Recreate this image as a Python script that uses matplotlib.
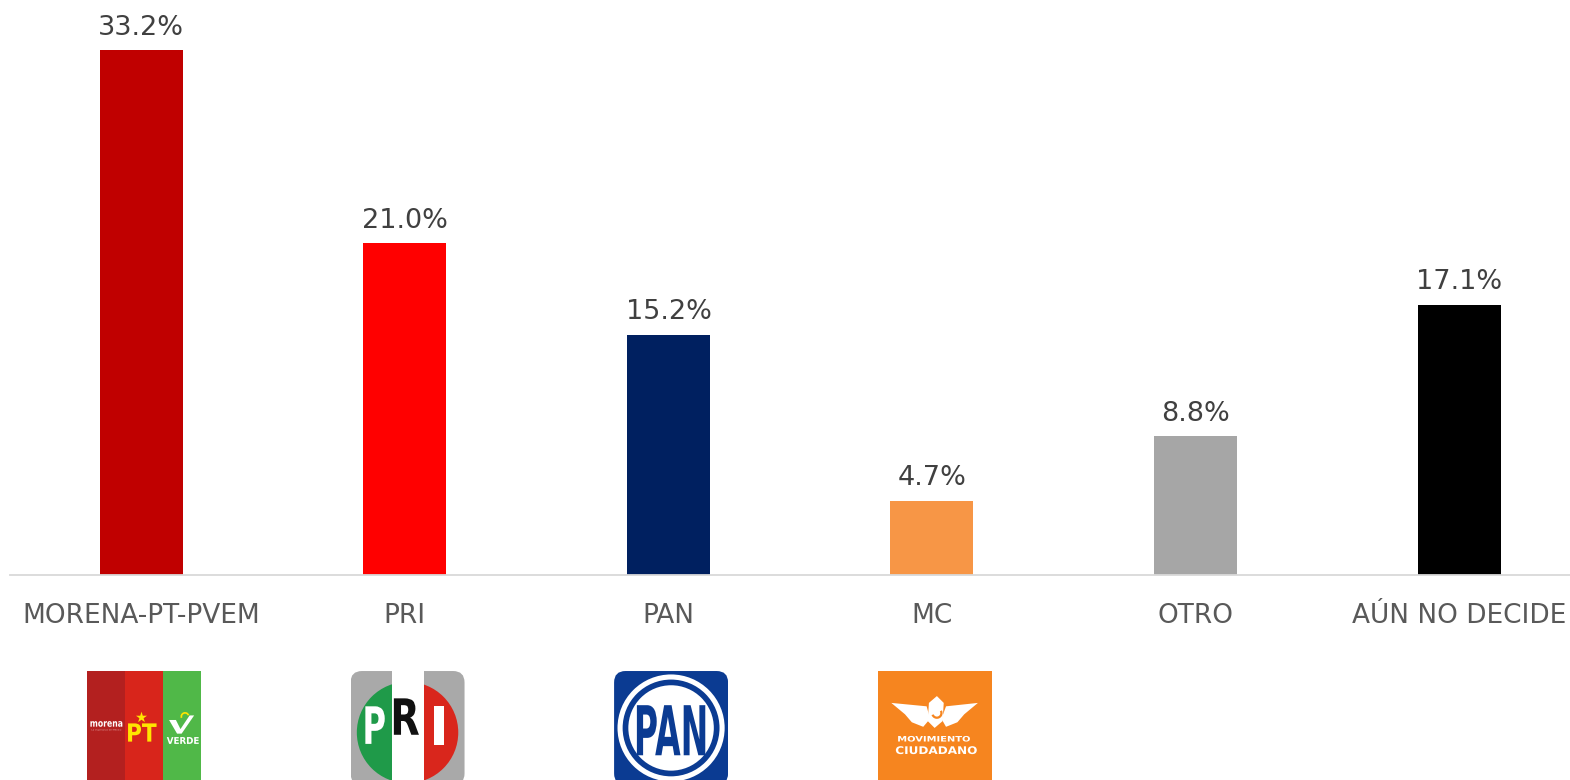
import matplotlib
matplotlib.use("Agg")
import matplotlib.pyplot as plt
from matplotlib.patches import Rectangle, Circle, Wedge, Polygon, FancyBboxPatch, PathPatch
from matplotlib.textpath import TextPath
from matplotlib.font_manager import FontProperties
from matplotlib.transforms import Affine2D

# Data
categories = ["MORENA-PT-PVEM", "PRI", "PAN", "MC", "OTRO", "AÚN NO DECIDE"]
values = [33.2, 21.0, 15.2, 4.7, 8.8, 17.1]
bar_colors = ["#c00000", "#ff0000", "#002060", "#f79646", "#a6a6a6", "#000000"]
logos = ["morena", "pri", "pan", "mc", None, None]


def fit_text(a, s, x0, y0, x1, y1, color, weight="bold"):
    # draw text stretched into a box (logo units, y up)
    tp = TextPath((0, 0), s, size=1, prop=FontProperties(family="DejaVu Sans", weight=weight))
    bb = tp.get_extents()
    tr = (Affine2D().translate(-bb.x0, -bb.y0)
          .scale((x1 - x0) / bb.width, (y1 - y0) / bb.height).translate(x0, y0))
    a.add_patch(PathPatch(tr.transform_path(tp), fc=color, ec="none", lw=0))


def logo_morena(a):
    for k, c in enumerate(["#b3201f", "#d8251b", "#50b848"]):
        a.add_patch(Rectangle((k / 3, 0), 1 / 3 + 0.002, 1, fc=c, ec="none"))
    fit_text(a, "morena", 0.03, 0.51, 0.31, 0.56, "white")
    fit_text(a, "La esperanza de México", 0.04, 0.475, 0.30, 0.49, "#f2c9c9", weight="normal")
    fit_text(a, "PT", 0.36, 0.38, 0.61, 0.54, "#ffe500")
    a.scatter([0.475], [0.60], marker="*", s=70, color="#ffe500", lw=0)
    fit_text(a, "VERDE", 0.70, 0.36, 0.98, 0.42, "white")
    a.add_patch(Polygon([(0.72, 0.57), (0.78, 0.57), (0.82, 0.49), (0.90, 0.61),
                         (0.94, 0.61), (0.83, 0.45), (0.79, 0.45)], fc="white", ec="none"))
    a.add_patch(Wedge((0.86, 0.60), 0.04, 20, 200, width=0.015, fc="#ffe500", ec="none"))


def logo_pri(a):
    a.add_patch(FancyBboxPatch((0, 0), 1, 1, boxstyle="round,pad=0,rounding_size=0.1",
                               fc="#a9a9a9", ec="none"))
    a.add_patch(Wedge((0.5, 0.46), 0.445, 90, 270, fc="#1f9a49", ec="none"))
    a.add_patch(Wedge((0.5, 0.46), 0.445, -90, 90, fc="#d9261c", ec="none"))
    a.add_patch(Rectangle((0.36, 0), 0.28, 1, fc="white", ec="none"))
    fit_text(a, "P", 0.13, 0.36, 0.30, 0.69, "white")
    fit_text(a, "R", 0.38, 0.44, 0.60, 0.76, "#111111")
    fit_text(a, "I", 0.73, 0.35, 0.82, 0.69, "white")


def logo_pan(a):
    blue = "#0b3b92"
    a.add_patch(FancyBboxPatch((0, 0), 1, 1, boxstyle="round,pad=0,rounding_size=0.1",
                               fc=blue, ec="none"))
    a.add_patch(Circle((0.5, 0.5), 0.47, fc="white", ec="none"))
    a.add_patch(Circle((0.5, 0.5), 0.425, fc=blue, ec="none"))
    a.add_patch(Circle((0.5, 0.5), 0.375, fc="white", ec="none"))
    fit_text(a, "PAN", 0.20, 0.26, 0.80, 0.70, blue)


def logo_mc(a):
    a.add_patch(Rectangle((0, 0), 1, 1, fc="#f6851f", ec="none"))
    a.add_patch(Polygon([(0.12, 0.72), (0.43, 0.69), (0.46, 0.58), (0.40, 0.51),
                         (0.30, 0.55), (0.24, 0.62)], fc="white", ec="none"))
    a.add_patch(Polygon([(0.88, 0.72), (0.60, 0.69), (0.56, 0.58), (0.60, 0.51),
                         (0.70, 0.55), (0.76, 0.62)], fc="white", ec="none"))
    a.add_patch(Polygon([(0.45, 0.72), (0.52, 0.78), (0.58, 0.72), (0.57, 0.56),
                         (0.50, 0.50), (0.44, 0.56)], fc="white", ec="none"))
    a.add_patch(Wedge((0.52, 0.63), 0.05, 200, 30, width=0.02, fc="#f6851f", ec="none"))
    fit_text(a, "MOVIMIENTO", 0.18, 0.38, 0.81, 0.43, "white")
    fit_text(a, "CIUDADANO", 0.16, 0.27, 0.87, 0.34, "white")


drawers = {"morena": logo_morena, "pri": logo_pri, "pan": logo_pan, "mc": logo_mc}

fig = plt.figure(figsize=(15.7, 7.8), dpi=100)
ax = fig.add_axes([10 / 1570, 205 / 780, 1560 / 1570, 575 / 780])

xs = list(range(len(categories)))
ax.bar(xs, values, width=0.315, color=bar_colors)
ax.set_xlim(-0.4985, 5.421)
ax.set_ylim(0, 36.37)

for s in ["top", "right", "left"]:
    ax.spines[s].set_visible(False)
ax.spines["bottom"].set_color("#d9d9d9")
ax.spines["bottom"].set_linewidth(1.3)
ax.set_yticks([])
ax.set_xticks(xs, categories, fontsize=19, color="#595959")
ax.tick_params(axis="x", length=0, pad=20.5)

for i, v in enumerate(values):
    ax.annotate(f"{v:.1f}%", (i, v), xytext=(0, 11), textcoords="offset points",
                ha="center", va="baseline", fontsize=19.5, color="#404040")

# party logos under the category labels
lw = 0.4325
for i, name in enumerate(logos):
    if name is None:
        continue
    la = ax.inset_axes([i + 0.01 - lw / 2, -0.365, lw, 0.198], transform=ax.get_xaxis_transform())
    la.set_xlim(0, 1)
    la.set_ylim(0, 1)
    la.axis("off")
    drawers[name](la)

fig.savefig("out.png", dpi=100)
